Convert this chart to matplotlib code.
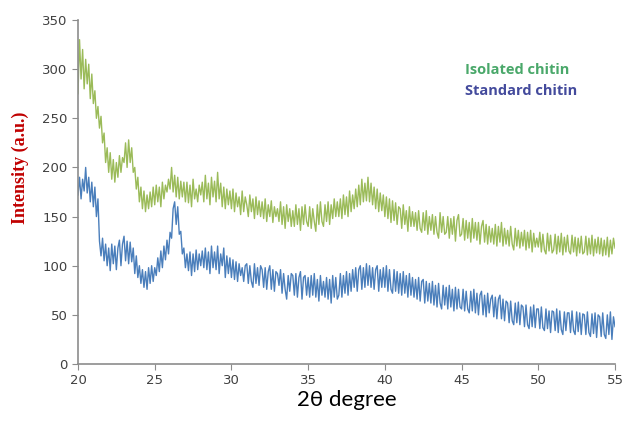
import numpy as np
import matplotlib
matplotlib.use('Agg')
import matplotlib.pyplot as plt

# XRD intensities, one row per degree (step 0.1 deg, 20 -> 55)
isolated = [
    275, 330, 290, 320, 280, 310, 285, 305, 270, 295,
    265, 278, 250, 262, 240, 252, 225, 235, 205, 220,
    195, 215, 188, 208, 185, 205, 190, 212, 195, 210,
    205, 225, 200, 228, 205, 220, 195, 200, 178, 190,
    165, 180, 158, 176, 155, 172, 158, 175, 160, 180,
    162, 182, 165, 180, 160, 185, 168, 182, 175, 188,
    178, 200, 175, 192, 170, 190, 168, 186, 170, 185,
    165, 185, 164, 182, 160, 188, 168, 178, 165, 182,
    172, 185, 165, 192, 168, 184, 162, 190, 170, 186,
    165, 195, 168, 184, 160, 180, 158, 178, 162, 176,
    158, 178, 155, 174, 160, 170, 152, 176, 155, 170,
    162, 150, 172, 155, 168, 148, 170, 152, 166, 150,
    165, 148, 168, 145, 162, 150, 166, 144, 160, 150,
    158, 145, 165, 142, 160, 138, 162, 145, 158, 140,
    156, 140, 162, 142, 158, 136, 160, 142, 162, 145,
    140, 160, 138, 158, 145, 135, 162, 142, 165, 145,
    140, 162, 145, 165, 142, 162, 148, 168, 150, 165,
    150, 168, 148, 172, 152, 170, 150, 176, 155, 172,
    158, 178, 160, 182, 162, 188, 165, 184, 166, 190,
    165, 184, 162, 180, 158, 178, 155, 174, 156, 172,
    150, 170, 148, 168, 144, 166, 146, 164, 142, 160,
    158, 138, 162, 142, 156, 135, 160, 140, 155, 140,
    154, 136, 156, 138, 134, 154, 136, 156, 132, 150,
    136, 152, 132, 150, 134, 128, 154, 134, 150, 132,
    134, 150, 128, 148, 132, 150, 125, 146, 152, 130,
    132, 148, 126, 146, 128, 144, 124, 148, 128, 144,
    126, 144, 122, 140, 146, 124, 142, 122, 140, 124,
    138, 122, 142, 120, 140, 124, 144, 120, 138, 122,
    136, 120, 140, 122, 116, 138, 120, 136, 118, 134,
    120, 136, 116, 134, 118, 136, 114, 133, 119, 128,
    119, 134, 114, 132, 116, 112, 133, 115, 131, 113,
    116, 132, 112, 130, 114, 133, 111, 129, 114, 131,
    115, 112, 131, 114, 129, 110, 128, 113, 130, 112,
    114, 130, 111, 128, 112, 131, 110, 127, 113, 129,
    112, 128, 110, 126, 111, 129, 109, 126, 112, 128,
    118,
]

standard = [
    172, 190, 168, 188, 176, 200, 174, 190, 165, 185,
    160, 180, 150, 168, 125, 110, 128, 105, 122, 100,
    118, 95, 122, 102, 120, 96, 118, 126, 100, 122,
    130, 105, 125, 102, 124, 104, 118, 92, 110, 88,
    100, 82, 96, 78, 94, 76, 98, 82, 100, 84,
    98, 90, 108, 94, 115, 98, 120, 106, 126, 112,
    134, 128, 158, 165, 142, 160, 132, 135, 112, 118,
    98, 112, 95, 114, 90, 112, 94, 116, 96, 112,
    100, 115, 98, 118, 96, 114, 92, 120, 98, 114,
    96, 120, 92, 112, 100, 118, 88, 110, 92, 108,
    88, 106, 86, 104, 84, 102, 90, 98, 84, 100,
    102, 82, 100, 84, 78, 102, 82, 98, 80, 100,
    96, 78, 98, 76, 94, 100, 76, 96, 74, 94,
    92, 80, 96, 72, 92, 76, 66, 90, 74, 92,
    90, 70, 92, 68, 88, 94, 66, 88, 90, 70,
    88, 68, 90, 70, 92, 68, 86, 64, 90, 70,
    84, 68, 88, 66, 86, 62, 90, 68, 88, 66,
    70, 92, 68, 90, 72, 94, 70, 92, 74, 96,
    78, 98, 74, 96, 100, 76, 98, 78, 102, 80,
    100, 78, 98, 76, 96, 100, 74, 96, 78, 98,
    78, 100, 74, 96, 76, 72, 96, 74, 94, 72,
    92, 70, 94, 72, 90, 68, 92, 70, 88, 68,
    86, 66, 88, 64, 84, 86, 62, 84, 64, 82,
    62, 84, 60, 80, 58, 82, 62, 56, 80, 60,
    78, 56, 80, 58, 76, 54, 78, 56, 76, 58,
    56, 76, 54, 74, 56, 52, 74, 54, 76, 52,
    72, 50, 70, 74, 50, 70, 48, 72, 52, 66,
    70, 48, 68, 46, 66, 70, 46, 66, 44, 64,
    62, 42, 64, 44, 40, 62, 42, 63, 40, 60,
    58, 38, 60, 40, 36, 58, 38, 60, 37, 56,
    56, 36, 58, 37, 34, 56, 36, 54, 32, 54,
    53, 34, 56, 32, 54, 35, 30, 53, 34, 52,
    52, 32, 54, 34, 30, 53, 33, 52, 30, 51,
    50, 30, 53, 32, 28, 51, 31, 52, 27, 50,
    48, 28, 52, 30, 26, 50, 30, 53, 25, 48,
    38,
]

two_theta = np.linspace(20, 55, len(isolated))
xticks = [20, 25, 30, 35, 40, 45, 50, 55]
yticks = [0, 50, 100, 150, 200, 250, 300, 350]

fig = plt.figure(figsize=(6.25, 4.23), dpi=100)
ax = fig.add_axes([0.1248, 0.1395, 0.8592, 0.8132])

ax.plot(two_theta, isolated, color='#9bbb59', lw=1.0)
ax.plot(two_theta, standard, color='#4a7ebb', lw=1.0)

ax.set_xlim(20, 55)
ax.set_ylim(0, 350)
ax.set_xticks(xticks)
ax.set_yticks(yticks)

for s in ['top', 'right']:
    ax.spines[s].set_visible(False)
for s in ['left', 'bottom']:
    ax.spines[s].set_color('#8c8c8c')
    ax.spines[s].set_linewidth(1.2)
ax.tick_params(colors='#8c8c8c', labelcolor='#404040', labelsize=9.5,
               direction='out', length=4)

ax.set_xlabel('2θ degree', fontsize=16, family=['Lato', 'DejaVu Sans'],
              color='black', labelpad=2)
ax.set_ylabel('Intensity (a.u.)', fontsize=13, family='Liberation Serif',
              fontweight='bold', color='#c00000')
ax.yaxis.set_label_coords(-0.092, 0.57)

fig.text(0.744, 0.834, 'Isolated chitin', color='#4aa86a', fontsize=10.5,
         fontweight='bold', family='Open Sans', va='center')
fig.text(0.744, 0.784, 'Standard chitin', color='#434a9c', fontsize=10.5,
         fontweight='bold', family='Open Sans', va='center')

fig.savefig('out.png', dpi=100)
print('done')
